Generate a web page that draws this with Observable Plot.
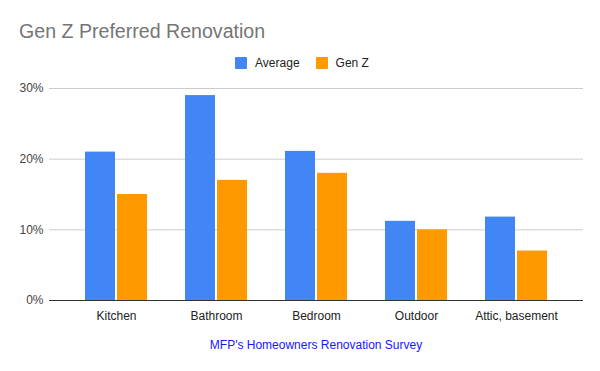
<!DOCTYPE html>
<html><head><meta charset="utf-8">
<script src="https://cdn.jsdelivr.net/npm/d3@7"></script>
<script src="https://cdn.jsdelivr.net/npm/@observablehq/plot@0.6"></script>
<style>
body{margin:0;background:#fff;font-family:"Liberation Sans",Arial,sans-serif;}
#wrap{width:600px;height:371px;overflow:hidden;}
#title{height:28px;padding:20px 0 0 19px;font-size:19.6px;line-height:22px;color:#757575;}
#legend{height:23px;padding-top:3px;display:flex;justify-content:center;align-items:center;font-size:12px;color:#222;padding-left:4px;}
.item{display:flex;align-items:center;margin:0 8px;}
.sw{width:12px;height:12px;border-radius:1px;margin-right:8px;}
#chart{height:256px;}
#caption{height:41px;line-height:30px;text-align:center;font-size:12px;color:#1616ff;padding-left:32px;width:568px;}
</style></head>
<body>
<div id="wrap">
<div id="title">Gen Z Preferred Renovation</div>
<div id="legend"></div>
<div id="chart"></div>
<div id="caption">MFP's Homeowners Renovation Survey</div>
</div>
<script>
const categories = ["Kitchen", "Bathroom", "Bedroom", "Outdoor", "Attic, basement"];
const seriesNames = ["Average", "Gen Z"];
const averageValues = [21, 29, 21.1, 11.2, 11.8];
const genZValues = [15, 17, 18, 10, 7];
const yTicks = [0, 10, 20, 30];
const colors = ["#4285F4", "#FF9900"];

const data = categories.map((c, i) => ({cat: c, avg: averageValues[i], genz: genZValues[i]}));

const legend = document.getElementById("legend");
seriesNames.forEach((s, i) => {
  const it = document.createElement("div");
  it.className = "item";
  const sw = document.createElement("div");
  sw.className = "sw";
  sw.style.background = colors[i];
  const t = document.createElement("span");
  t.textContent = s;
  it.appendChild(sw); it.appendChild(t);
  legend.appendChild(it);
});

const chart = Plot.plot({
  width: 600,
  height: 256,
  marginTop: 14,
  marginBottom: 30,
  marginLeft: 49,
  marginRight: 17,
  style: {fontSize: "12px", fontFamily: "'Liberation Sans', Arial, sans-serif", color: "#444", background: "#fff"},
  x: {domain: categories, paddingInner: 0.38, paddingOuter: 0.36, label: null, tickSize: 0, tickPadding: 11},
  y: {domain: [0, 30], ticks: yTicks, tickFormat: d => d + "%", label: null, tickSize: 0, tickPadding: 6},
  marks: [
    Plot.ruleY(yTicks.filter(d => d > 0), {stroke: "#cccccc", strokeWidth: 1}),
    Plot.barY(data, {x: "cat", y: "avg", fill: colors[0], insetRight: 32}),
    Plot.barY(data, {x: "cat", y: "genz", fill: colors[1], insetLeft: 32}),
    Plot.ruleY([0], {stroke: "#333333", strokeWidth: 1})
  ]
});
chart.querySelectorAll("[aria-label='x-axis tick label'] text, [aria-label='x-axis'] text").forEach(t => t.setAttribute("fill", "#222"));
document.getElementById("chart").appendChild(chart);
</script>
</body></html>
